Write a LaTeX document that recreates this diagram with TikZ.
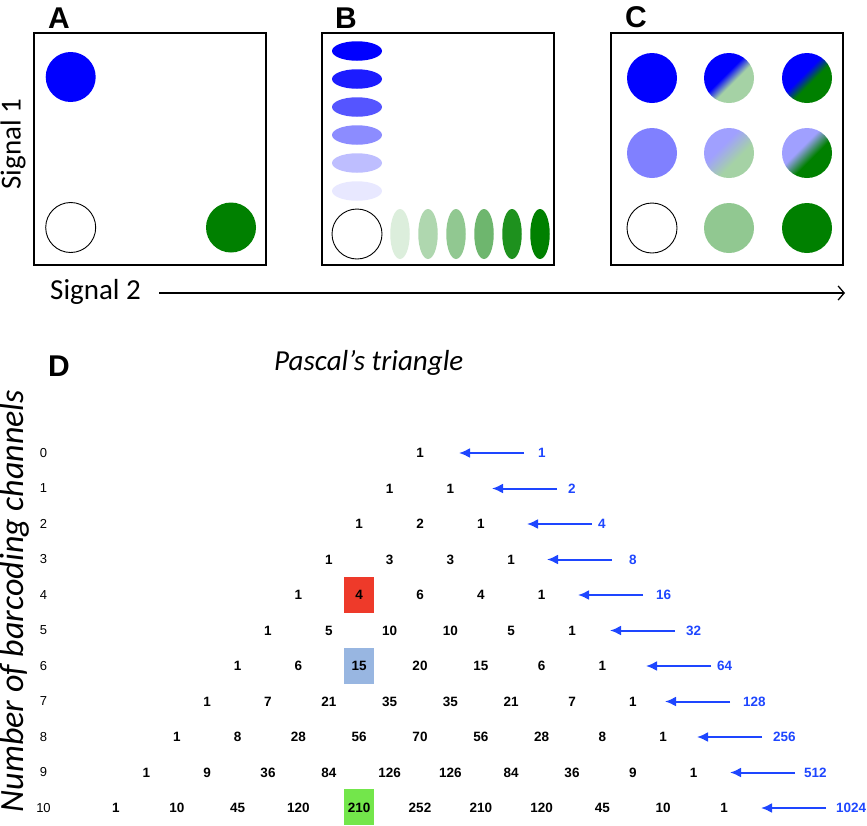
\documentclass[tikz,border=0pt]{standalone}
\usepackage{fontspec}
\setmainfont{Liberation Sans}
\newfontfamily\carl{Carlito}
\usetikzlibrary{arrows.meta,shapes.geometric}
\definecolor{cBlue}{RGB}{0,0,255}
\definecolor{cGreen}{RGB}{0,128,0}
\definecolor{cLBlue}{RGB}{128,128,255}
\definecolor{cPBlue}{RGB}{160,160,255}
\definecolor{cLGreen}{RGB}{165,210,165}
\definecolor{cMGreen}{RGB}{145,200,145}
\definecolor{cArrow}{RGB}{30,70,255}
\definecolor{cRed}{RGB}{238,58,42}
\definecolor{cHBlue}{RGB}{152,182,225}
\definecolor{cHGreen}{RGB}{115,230,75}
\definecolor{b1}{RGB}{0,0,255}
\definecolor{b2}{RGB}{28,28,255}
\definecolor{b3}{RGB}{85,85,255}
\definecolor{b4}{RGB}{140,140,255}
\definecolor{b5}{RGB}{190,190,255}
\definecolor{b6}{RGB}{232,232,255}
\definecolor{g1}{RGB}{220,238,220}
\definecolor{g2}{RGB}{175,215,175}
\definecolor{g3}{RGB}{145,200,145}
\definecolor{g4}{RGB}{110,182,110}
\definecolor{g5}{RGB}{30,145,30}
\definecolor{g6}{RGB}{0,128,0}
\pgfdeclarehorizontalshading{shTM}{100bp}{color(0bp)=(cBlue); color(45bp)=(cBlue); color(56bp)=(cLGreen); color(100bp)=(cLGreen)}
\pgfdeclarehorizontalshading{shTR}{100bp}{color(0bp)=(cBlue); color(45bp)=(cBlue); color(56bp)=(cGreen); color(100bp)=(cGreen)}
\pgfdeclarehorizontalshading{shMM}{100bp}{color(0bp)=(cPBlue); color(40bp)=(cPBlue); color(60bp)=(cLGreen); color(100bp)=(cLGreen)}
\pgfdeclarehorizontalshading{shMR}{100bp}{color(0bp)=(cPBlue); color(42bp)=(cPBlue); color(57bp)=(cGreen); color(100bp)=(cGreen)}
\begin{document}
\begin{tikzpicture}[x=1pt,y=-1pt,
  panel/.style={draw=black,line width=2.4pt},
  plabel/.style={font=\fontsize{30}{30}\selectfont\bfseries, inner sep=0pt},
  axlab/.style={font=\carl\fontsize{29}{29}\selectfont, inner sep=0pt},
  dot/.style={circle, minimum size=50pt, inner sep=0pt, draw=none},
  empty/.style={circle, minimum size=50pt, inner sep=0pt, draw=black, line width=0.9pt, fill=white},
  hell/.style={ellipse, minimum width=50pt, minimum height=19.5pt, inner sep=0pt, draw=none},
  vell/.style={ellipse, minimum width=19.5pt, minimum height=50pt, inner sep=0pt, draw=none},
  num/.style={font=\fontsize{13.5}{14}\selectfont\bfseries, inner sep=0pt},
  rowlab/.style={font=\fontsize{13}{14}\selectfont, inner sep=0pt},
  pw/.style={font=\fontsize{13.5}{14}\selectfont\bfseries, text=cArrow, inner sep=0pt, anchor=west},
  barrow/.style={draw=cArrow, line width=2pt, -{Latex[length=11pt,width=10pt]}},
  hl/.style={minimum width=30pt, minimum height=36pt, inner sep=0pt, draw=none},
  saxis/.style={draw=black, line width=1.3pt, -{Straight Barb[length=6pt,width=14pt,line width=1.3pt]}}
  ]
\useasboundingbox (0,0) rectangle (867,825);
% Panel frames
\node[plabel] (labA) at (59,18) {A};
\node[plabel] (labB) at (346,18) {B};
\node[plabel] (labC) at (636,17) {C};
\draw[panel] (34,33) rectangle (266,265);
\draw[panel] (322,33) rectangle (554,265);
\draw[panel] (611,33) rectangle (843,265);
% Panel A
\node[dot, fill=cBlue] (a1) at (70.7,77) {};
\node[empty] (a0) at (70.7,227.5) {};
\node[dot, fill=cGreen] (a2) at (231,227.5) {};
% Panel B
\foreach \c [count=\i from 0] in {b1,b2,b3,b4,b5,b6}
  \node[hell, fill=\c] (bb\i) at (357,51+28*\i) {};
\node[empty] (b0) at (357,234) {};
\foreach \c [count=\i from 0] in {g1,g2,g3,g4,g5,g6}
  \node[vell, fill=\c] (bg\i) at (400+28*\i,234) {};
% Panel C
\node[dot, fill=cBlue] (c13) at (652,78) {};
\node[dot, shading=shTM, shading angle=-45] (c23) at (729,78) {};
\node[dot, shading=shTR, shading angle=-45] (c33) at (807,78) {};
\node[dot, fill=cLBlue] (c12) at (652,153) {};
\node[dot, shading=shMM, shading angle=-45] (c22) at (729,153) {};
\node[dot, shading=shMR, shading angle=-45] (c32) at (807,153) {};
\node[empty] (c11) at (652,228) {};
\node[dot, fill=cMGreen] (c21) at (729,228) {};
\node[dot, fill=cGreen] (c31) at (807,228) {};
% Axes labels
\node[axlab, rotate=90] (sig1) at (13,144) {Signal 1};
\node[axlab, anchor=base west] (sig2) at (50,299) {Signal 2};
\coordinate (axs) at (159,293);
\coordinate (axe) at (845,293);
\draw[saxis] (axs) -- (axe);
% Panel D
\node[plabel] (labD) at (59,366) {D};
\node[axlab, font=\carl\itshape\fontsize{29}{29}\selectfont, anchor=base west] (title) at (274,370) {Pascal’s triangle};
\node[axlab, font=\carl\itshape\fontsize{34}{34}\selectfont, rotate=90] (ylab) at (15,601) {Number of barcoding channels};
% highlight boxes
\node[hl, fill=cRed] (hR) at (359.2,595) {};
\node[hl, fill=cHBlue] (hB) at (359.2,666) {};
\node[hl, fill=cHGreen] (hG) at (359.2,807) {};
% triangle
\foreach \n/\row in {0/{1},1/{1,1},2/{1,2,1},3/{1,3,3,1},4/{1,4,6,4,1},5/{1,5,10,10,5,1},6/{1,6,15,20,15,6,1},7/{1,7,21,35,35,21,7,1},8/{1,8,28,56,70,56,28,8,1},9/{1,9,36,84,126,126,84,36,9,1},10/{1,10,45,120,210,252,210,120,45,10,1}}{
  \node[rowlab] (r-\n) at (43.5,453+35.5*\n) {\n};
  \foreach \v [count=\k from 0] in \row
    \node[num] (p-\n-\k) at ({420+(2*\k-\n)*30.4},{453+35.5*\n}) {\v};
}
% arrows
\foreach \n/\hx/\lx in {0/459/538,1/492/568,2/527/598,3/547/629,4/578/656,5/610/686,6/646/717,7/665/743,8/697/773,9/730/804,10/761/836}{
  \pgfmathtruncatemacro{\pv}{2^\n}
  \coordinate (h-\n) at (\hx,453+35.5*\n);
  \coordinate (t-\n) at (\hx+65,453+35.5*\n);
  \node[pw] (s-\n) at (\lx,453+35.5*\n) {\pv};
  \draw[barrow] (t-\n) -- (h-\n);
}
\end{tikzpicture}
\end{document}
